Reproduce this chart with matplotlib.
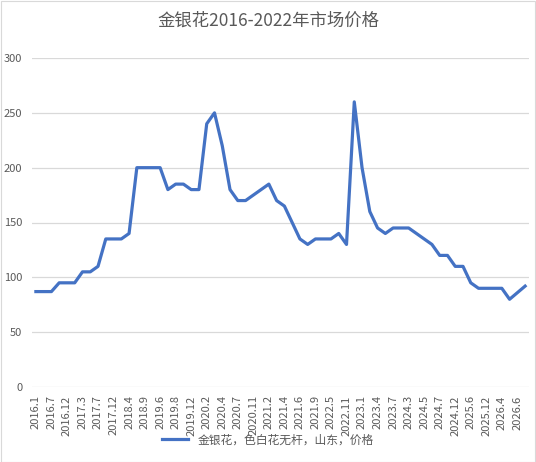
import matplotlib
matplotlib.use("Agg")
import matplotlib.pyplot as plt
from matplotlib.patches import Rectangle

plt.rcParams['font.family'] = ['Noto Sans CJK SC', 'DejaVu Sans']

title = "金银花2016-2022年市场价格"
series_name = "金银花，色白花无杆，山东，价格"

# visible (every other) category labels
shown_labels = ["2016.1", "2016.7", "2016.12", "2017.3", "2017.7", "2017.12", "2018.4",
                "2018.9", "2019.6", "2019.8", "2019.12", "2020.2", "2020.4", "2020.7",
                "2020.11", "2021.2", "2021.4", "2021.6", "2021.9", "2022.5", "2022.11",
                "2023.1", "2023.4", "2023.7", "2024.3", "2024.5", "2024.7", "2024.12",
                "2025.6", "2025.12", "2026.4", "2026.6"]

prices = [87, 87, 87, 95, 95, 95, 105, 105, 110, 135,
          135, 135, 140, 200, 200, 200, 200, 180, 185, 185,
          180, 180, 240, 250, 220, 180, 170, 170, 175, 180,
          185, 170, 165, 150, 135, 130, 135, 135, 135, 140,
          130, 260, 200, 160, 145, 140, 145, 145, 145, 140,
          135, 130, 120, 120, 110, 110, 95, 90, 90, 90,
          90, 80, 86, 92]

y_ticks = [0, 50, 100, 150, 200, 250, 300]

W, H = 536, 462
fig = plt.figure(figsize=(W / 100, H / 100), dpi=100)
fig.patches.append(Rectangle((0.5 / W, 0.5 / H), 1 - 1.5 / W, 1 - 1.5 / H,
                             transform=fig.transFigure, fill=False,
                             edgecolor="#d9d9d9", linewidth=0.8))

ax = fig.add_axes([32 / W, 1 - 387 / H, 497 / W, 329 / H])
x = list(range(len(prices)))
line, = ax.plot(x, prices, color="#4472C4", linewidth=2.3, solid_joinstyle="round",
                label=series_name)

ax.set_xlim(-0.5, len(prices) - 0.5)
ax.set_ylim(0, 300)
ax.set_yticks(y_ticks)
ax.set_yticklabels([str(v) for v in y_ticks])
ax.set_xticks(list(range(0, len(prices), 2)))
ax.set_xticklabels(shown_labels, rotation=90)
ax.grid(axis="y", color="#d9d9d9", linewidth=0.9)
ax.set_axisbelow(True)
for s in ax.spines.values():
    s.set_visible(False)
ax.tick_params(axis="both", length=0, colors="#595959", labelsize=8)
ax.tick_params(axis="y", pad=7)
ax.tick_params(axis="x", pad=6)

fig.text(0.5, 1 - 21 / H, title, ha="center", va="center", fontsize=12.5, color="#595959")

fig.legend(handles=[line], loc="center", bbox_to_anchor=(0.5, 1 - 440 / H),
           frameon=False, fontsize=8.5, handlelength=2.2, labelcolor="#595959")

fig.savefig("out.png", dpi=100)
